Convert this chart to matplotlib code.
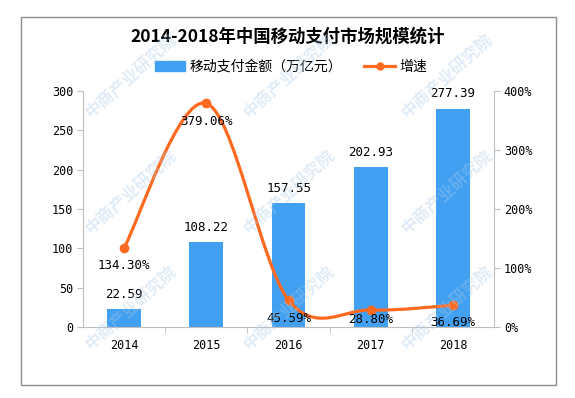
import matplotlib
matplotlib.use("Agg")
import matplotlib.pyplot as plt
from matplotlib.path import Path
from matplotlib.patches import PathPatch, Rectangle, Patch
from matplotlib.lines import Line2D

# données
years = ["2014", "2015", "2016", "2017", "2018"]
amounts = [22.59, 108.22, 157.55, 202.93, 277.39]
growth = [134.30, 379.06, 45.59, 28.80, 36.69]
growth_labels = ["134.30%", "379.06%", "45.59%", "28.80%", "36.69%"]

BLUE = "#41a0f2"
ORANGE = "#ff6a21"
GRAY = "#bfbfbf"
CJK = ["Noto Sans CJK SC", "DejaVu Sans"]
NUM = ["DejaVu Sans Mono", "Noto Sans CJK SC"]

fig = plt.figure(figsize=(5.75, 3.98), dpi=100)

# filigrane
for cx in [82, 240, 398]:
    for cy in [122, 238, 354]:
        fig.text(cx / 575, 1 - cy / 398, "中商产业研究院", rotation=42,
                 family=CJK, fontsize=12, fontweight="bold", color="#a9c9e6",
                 alpha=0.35, ha="left", va="bottom", zorder=10)

ax = fig.add_axes([0.1443, 0.1784, 0.715, 0.593])
x = list(range(len(years)))
bars = ax.bar(x, amounts, width=0.41, color=BLUE, zorder=2)
ax.set_xlim(-0.5, 4.5)
ax.set_ylim(0, 300)
ax.set_yticks(range(0, 301, 50))
ax.set_xticks(x)
ax.set_xticklabels(years, family=NUM, fontsize=8.5)
ax.set_xticks([i + 0.5 for i in x[:-1]], minor=True)
ax.tick_params(axis="x", which="major", length=0, pad=9)
ax.tick_params(axis="x", which="minor", length=4, color=GRAY)
ax.tick_params(axis="y", length=4, color=GRAY, labelsize=8.5, pad=3)
for lab in ax.get_yticklabels():
    lab.set_family(NUM)
for s in ["left", "bottom"]:
    ax.spines[s].set_color(GRAY)
ax.spines["top"].set_visible(False)
ax.spines["right"].set_visible(False)

for i, v in enumerate(amounts):
    ax.annotate(f"{v:.2f}", (i, v), xytext=(0, 6), textcoords="offset points",
                ha="center", va="bottom", family=NUM, fontsize=9)

ax2 = ax.twinx()
ax2.set_ylim(0, 400)
ax2.set_yticks(range(0, 401, 100))
ax2.set_yticklabels([f"{t}%" for t in range(0, 401, 100)], family=NUM, fontsize=8.5)
ax2.tick_params(axis="y", length=4, color=GRAY, pad=3)
ax2.spines["right"].set_color(GRAY)
for s in ["left", "top", "bottom"]:
    ax2.spines[s].set_visible(False)

# courbe lissée (Bézier type Excel)
pts = list(zip(x, growth))
ext = [pts[0]] + pts + [pts[-1]]
verts = [pts[0]]
codes = [Path.MOVETO]
for i in range(len(pts) - 1):
    p0, p1, p2, p3 = ext[i], ext[i + 1], ext[i + 2], ext[i + 3]
    c1 = (p1[0] + (p2[0] - p0[0]) / 6, p1[1] + (p2[1] - p0[1]) / 6)
    c2 = (p2[0] - (p3[0] - p1[0]) / 6, p2[1] - (p3[1] - p1[1]) / 6)
    verts += [c1, c2, p2]
    codes += [Path.CURVE4] * 3
ax2.add_patch(PathPatch(Path(verts, codes), facecolor="none", edgecolor=ORANGE,
                        lw=2.3, zorder=3))
ax2.plot(x, growth, linestyle="none", marker="o", markersize=6, color=ORANGE, zorder=4)

offsets = [-13, -13, -13, -7, -12]
for i, (v, lab) in enumerate(zip(growth, growth_labels)):
    ax2.annotate(lab, (i, v), xytext=(0, offsets[i]), textcoords="offset points",
                 ha="center", va="center", family=NUM, fontsize=9, zorder=5)

fig.text(0.5, 1 - 37 / 398, "2014-2018年中国移动支付市场规模统计", ha="center",
         va="center", family=CJK, fontsize=12.5, fontweight="bold")

handles = [Patch(color=BLUE, label="移动支付金额（万亿元）"),
           Line2D([], [], color=ORANGE, lw=2.3, marker="o", markersize=5, label="增速")]
fig.legend(handles=handles, loc="center", bbox_to_anchor=(0.506, 1 - 67 / 398),
           ncol=2, frameon=False, prop={"family": CJK, "size": 10},
           handlelength=2.2, handletextpad=0.3, columnspacing=1.6)

fig.add_artist(Rectangle((21 / 575, 13 / 398), 535 / 575, 368 / 398,
                         transform=fig.transFigure, fill=False,
                         edgecolor="#8c8c8c", lw=1))

fig.savefig("out.png", dpi=100)
